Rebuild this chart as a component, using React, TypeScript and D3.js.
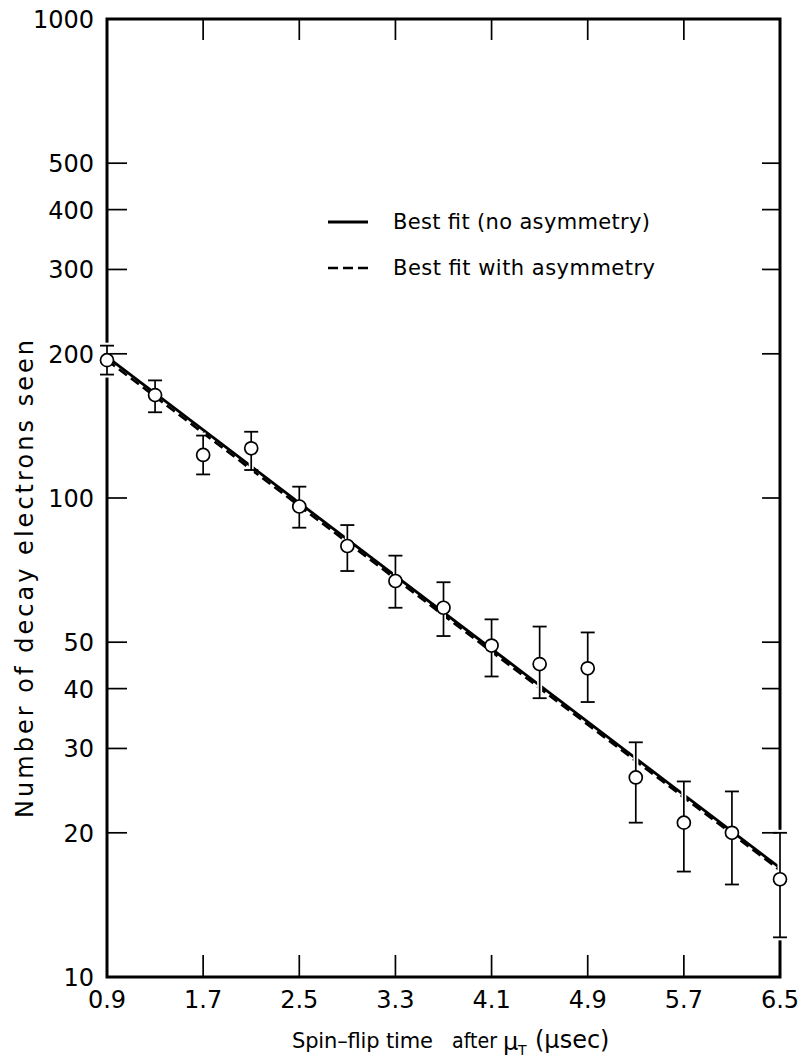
import React from "react";
import * as d3 from "d3";

// Spin-flip time (µsec) of each bin
const times = [0.9, 1.3, 1.7, 2.1, 2.5, 2.9, 3.3, 3.7, 4.1, 4.5, 4.9, 5.3, 5.7, 6.1, 6.5];
// Observed counts and their error-bar limits
const counts = [194, 164, 123, 127, 96, 79.4, 67.1, 59.0, 49.2, 45.0, 44.1, 26.1, 21.0, 20.0, 16.0];
const errHigh = [208, 176, 135, 137.5, 105.6, 87.8, 75.8, 66.7, 55.8, 53.9, 52.4, 30.9, 25.6, 24.4, 20.0];
const errLow = [181, 151, 112, 114.4, 86.7, 70.4, 59.0, 51.5, 42.4, 38.2, 37.5, 21.0, 16.6, 15.6, 12.1];

// Fitted exponential decays, given at the ends of the time range
const fitTimes = [0.9, 6.5];
const fitNoAsym = [197, 16.9];
const fitWithAsym = [194, 16.7];

const xTickValues = [0.9, 1.7, 2.5, 3.3, 4.1, 4.9, 5.7, 6.5];
const yTickValues = [10, 20, 30, 40, 50, 100, 200, 300, 400, 500, 1000];

const W = 801;
const H = 1062;
const left = 107;
const right = 780;
const top = 19;
const bottom = 977;
const FONT = "'DejaVu Sans', 'Open Sans', sans-serif";

export default function App() {
  const x = d3.scaleLinear().domain([0.9, 6.5]).range([left, right]);
  const y = d3.scaleLog().domain([10, 1000]).range([bottom, top]);

  const line = d3
    .line<number>()
    .x((_, i) => x(fitTimes[i]))
    .y((d) => y(d));

  const innerX = xTickValues.filter((v) => v > 0.9 && v < 6.5);
  const innerY = yTickValues.filter((v) => v > 10 && v < 1000);

  return (
    <svg
      width={W}
      height={H}
      style={{ position: "absolute", left: 0, top: 0, background: "#fff" }}
      fontFamily={FONT}
    >
      <rect x={0} y={0} width={W} height={H} fill="#fff" />

      {/* frame */}
      <rect
        x={left}
        y={top}
        width={right - left}
        height={bottom - top}
        fill="none"
        stroke="#000"
        strokeWidth={3}
      />

      {/* x ticks, bottom and top, pointing inward */}
      {innerX.map((v) => (
        <g key={"xt" + v}>
          <line x1={x(v)} x2={x(v)} y1={bottom} y2={bottom - 22} stroke="#000" strokeWidth={1.7} />
          <line x1={x(v)} x2={x(v)} y1={top} y2={top + 21} stroke="#000" strokeWidth={1.7} />
        </g>
      ))}

      {/* y ticks, left and right, pointing inward */}
      {innerY.map((v) => (
        <g key={"yt" + v}>
          <line x1={left} x2={left + 20} y1={y(v)} y2={y(v)} stroke="#000" strokeWidth={1.7} />
          <line x1={right} x2={right - 18} y1={y(v)} y2={y(v)} stroke="#000" strokeWidth={1.7} />
        </g>
      ))}

      {/* x tick labels */}
      {xTickValues.map((v) => (
        <text
          key={"xl" + v}
          x={x(v)}
          y={1008}
          fontSize={24}
          textAnchor="middle"
          fill="#000"
        >
          {v.toFixed(1)}
        </text>
      ))}

      {/* y tick labels */}
      {yTickValues.map((v) => (
        <text
          key={"yl" + v}
          x={94}
          y={y(v) + 9}
          fontSize={24}
          textAnchor="end"
          fill="#000"
        >
          {v}
        </text>
      ))}

      {/* fit curves */}
      <path d={line(fitNoAsym) ?? ""} fill="none" stroke="#000" strokeWidth={2.8} />
      <path
        d={line(fitWithAsym) ?? ""}
        fill="none"
        stroke="#000"
        strokeWidth={2.6}
        strokeDasharray="10 5"
      />

      {/* error bars: white halo underneath so they break the frame line */}
      {times.map((t, i) => (
        <g key={"eb" + i}>
          <line
            x1={x(t)}
            x2={x(t)}
            y1={y(errHigh[i]) - 3}
            y2={y(errLow[i]) + 3}
            stroke="#fff"
            strokeWidth={5}
          />
          <line x1={x(t)} x2={x(t)} y1={y(errHigh[i])} y2={y(errLow[i])} stroke="#000" strokeWidth={1.7} />
          <line x1={x(t) - 7} x2={x(t) + 7} y1={y(errHigh[i])} y2={y(errHigh[i])} stroke="#000" strokeWidth={1.8} />
          <line x1={x(t) - 7} x2={x(t) + 7} y1={y(errLow[i])} y2={y(errLow[i])} stroke="#000" strokeWidth={1.8} />
        </g>
      ))}

      {/* data points */}
      {times.map((t, i) => (
        <circle
          key={"pt" + i}
          cx={x(t)}
          cy={y(counts[i])}
          r={6.5}
          fill="#fff"
          stroke="#000"
          strokeWidth={1.7}
        />
      ))}

      {/* legend */}
      <line x1={328} x2={368} y1={222} y2={222} stroke="#000" strokeWidth={2.8} />
      <text x={393} y={229} fontSize={21} fill="#000" textLength={257} lengthAdjust="spacing">
        Best fit (no asymmetry)
      </text>
      <line
        x1={328}
        x2={368}
        y1={268}
        y2={268}
        stroke="#000"
        strokeWidth={2.6}
        strokeDasharray="10 5"
      />
      <text x={393} y={275} fontSize={21} fill="#000" textLength={262} lengthAdjust="spacing">
        Best fit with asymmetry
      </text>

      {/* x axis title */}
      <g fontSize={21} fill="#000">
        <text x={292} y={1048} textLength={141} lengthAdjust="spacing">
          {"Spin\u2013flip time"}
        </text>
        <text x={452} y={1048} textLength={45} lengthAdjust="spacingAndGlyphs">
          after
        </text>
        <text x={503} y={1050} fontSize={24}>
          {"\u03bc"}
        </text>
        <text x={518} y={1055} fontSize={14}>
          T
        </text>
        <text x={535} y={1048} fontSize={24}>
          {"(\u03bcsec)"}
        </text>
      </g>

      {/* y axis title */}
      <text
        transform="translate(33,579) rotate(-90)"
        fontSize={24}
        textAnchor="middle"
        fill="#000"
        textLength={478}
        lengthAdjust="spacing"
      >
        Number of decay electrons seen
      </text>
    </svg>
  );
}
